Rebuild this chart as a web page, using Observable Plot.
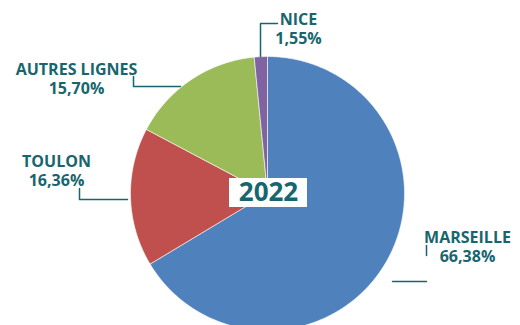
<!DOCTYPE html>
<html><head><meta charset="utf-8">
<script src="https://cdn.jsdelivr.net/npm/d3@7"></script>
<script src="https://cdn.jsdelivr.net/npm/@observablehq/plot@0.6"></script>
<style>body{margin:0;background:#fff}</style>
</head><body><div id="chart"></div>
<script>
const categories = ["MARSEILLE", "TOULON", "AUTRES LIGNES", "NICE"];
const values = [66.38, 16.36, 15.70, 1.55];
const valueLabels = ["66,38%", "16,36%", "15,70%", "1,55%"];
const centerLabel = "2022";

// styling / layout (not data)
const colors = ["#4F81BD", "#C0504D", "#9BBB59", "#8064A2"];
const teal = "#17666E";
const W = 520, H = 325, CX = 267, CY = 193, R = 137;
const px = x => (x - CX) / R;
const py = y => (CY - y) / R;

const labelLayout = {
  "MARSEILLE":     {x: 467, y: 246, leader: [[[392,281],[426,281]], [[426,245],[426,255]]]},
  "TOULON":        {x: 56,  y: 170, leader: [[[127,199],[79,199],[79,188]]]},
  "AUTRES LIGNES": {x: 76,  y: 78,  leader: [[[180,86],[133,86],[133,76]]]},
  "NICE":          {x: 298, y: 28,  leader: [[[260,56],[260,23],[277,23]]]}
};

const pie = d3.pie().sort(null).value(d => d.value);
const table = categories.map((c, i) => ({name: c, value: values[i], label: valueLabels[i]}));
const arcs = pie(table);

const wedgePts = [];
arcs.forEach(a => {
  const n = Math.max(4, Math.ceil((a.endAngle - a.startAngle) * 180 / Math.PI * 2));
  wedgePts.push({name: a.data.name, x: 0, y: 0});
  for (let k = 0; k <= n; k++) {
    const t = a.startAngle + (a.endAngle - a.startAngle) * k / n;
    wedgePts.push({name: a.data.name, x: Math.sin(t), y: Math.cos(t)});
  }
  wedgePts.push({name: a.data.name, x: 0, y: 0});
});

const leaderPts = [];
categories.forEach(c => {
  labelLayout[c].leader.forEach((seg, j) => {
    seg.forEach(p => leaderPts.push({id: c + j, x: px(p[0]), y: py(p[1])}));
  });
});

const labels = table.map(d => ({text: d.name + "\n" + d.label, x: px(labelLayout[d.name].x), y: py(labelLayout[d.name].y)}));

const chart = Plot.plot({
  width: W, height: H,
  margin: 0,
  style: {fontFamily: "'Open Sans', sans-serif", background: "#fff"},
  x: {domain: [px(0), px(W)], range: [0, W], axis: null},
  y: {domain: [py(H), py(0)], range: [H, 0], axis: null},
  color: {domain: categories, range: colors},
  marks: [
    Plot.line(wedgePts, {x: "x", y: "y", z: "name", fill: "name", stroke: "white", strokeWidth: 0.6, curve: "linear"}),
    Plot.line(leaderPts, {x: "x", y: "y", z: "id", stroke: teal, strokeWidth: 1.5}),
    Plot.text(labels, {x: "x", y: "y", text: "text", fill: teal, fontSize: 16, fontWeight: "bold", lineHeight: 1.2, textAnchor: "middle"}),
    Plot.rect([{}], {x1: px(229), x2: px(307), y1: py(207), y2: py(178), fill: "white"}),
    Plot.text([centerLabel], {x: px(268), y: py(192.5), text: d => d, fill: teal, fontSize: 26, fontWeight: "bold"})
  ]
});
document.getElementById("chart").appendChild(chart);
</script>
</body></html>
